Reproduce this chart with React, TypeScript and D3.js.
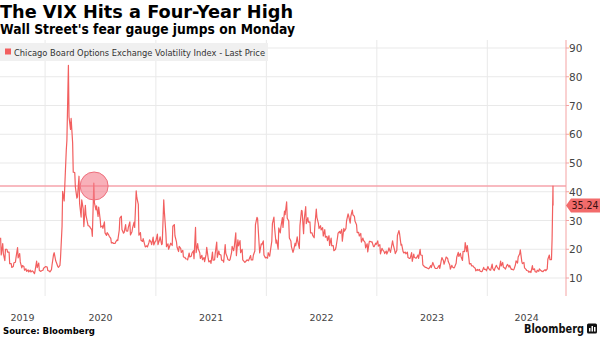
import React from 'react';
import * as d3 from 'd3';

const title = 'The VIX Hits a Four-Year High';
const subtitle = "Wall Street's fear gauge jumps on Monday";
const legendLabel = 'Chicago Board Options Exchange Volatility Index - Last Price';
const sourceText = 'Source: Bloomberg';
const brandText = 'Bloomberg';
const yTicks = [10, 20, 30, 40, 50, 60, 70, 80, 90];
const yearLabels = [2019, 2020, 2021, 2022, 2023, 2024];
const lastPrice = 35.24;
const highLevel = 42;
const highlightDate = '2020-06-11';

// two readings per week (mid-week, end of week), weeks starting on the given Monday
const vix2019 = [24, 18, 22, 18.5, 16, 20, 20, 19, 19, 15, 15, 13.7, 14, 15.3, 15.5, 17.2, 20.6, 17, 18.5, 15.6, 13.5, 14.3, 14, 12.7, 13.2, 12.3, 12.8, 12.1, 12.7, 12.1, 12.5, 12.3, 11.5, 12.6, 15.9, 13.6, 15.2, 12.6, 12.3, 12.5, 12.7, 13.4, 13.8, 14];
const vix2020 = [13.8, 12.6, 12.4, 12.1, 12.9, 14.6, 18.2, 18.8, 16, 15.5, 14, 13.7, 14.4, 17.1, 27.9, 40.1, 36.8, 41.9, 54.5, 57.8, 84, 66, 61.7, 65.5, 57, 46.8, 46.7, 41.7, 37.8, 38.2, 45.4, 35.9, 31.2, 37.2, 34, 27.9, 35.3, 31.9, 29.3, 28.2, 28, 27.5, 26.8, 24.5, 43, 36.1, 33.7, 35.1, 31.4, 34.7, 30.4, 27.7, 28.1, 27.3, 29.5, 25.7, 24.8, 25.8, 25, 24.5, 23.8, 22.2, 22.3, 22, 22, 22.5, 23.3, 23, 26.6, 30.8, 31.5, 26.9, 25.6, 25.8, 28.6, 26.4, 26.3, 27.6, 29.5, 25, 26.1, 27.4, 29.4, 27.6, 40.3, 38, 35.6, 24.9, 25.8, 23.1, 22.7, 23.7, 21.6, 20.8, 21.2, 20.8, 22.3, 23.3, 22.5, 21.6, 24.2, 21.5, 22.8, 22.8];
const vix2021 = [25.3, 21.6, 23.3, 24.3, 21.6, 21.9, 37.2, 33.1, 25.6, 20.9, 21.9, 20, 21.5, 22.1, 21.3, 28, 28.6, 24.7, 22.6, 20.7, 19.2, 21, 20.3, 18.9, 19.6, 17.3, 17.2, 16.7, 16.6, 16.3, 18.7, 17.3, 17.6, 18.6, 19.5, 16.7, 27.6, 18.8, 22, 20.2, 18.8, 16.8, 17.9, 16.4, 17.1, 15.7, 18.2, 20.7, 16.7, 15.6, 16, 15.1, 19, 16.2, 16.3, 18.5, 22.5, 17.2, 19.4, 18.2, 18, 16.2, 16.1, 15.5, 21.6, 18.6, 17.2, 16.4, 16.1, 16.4, 18.8, 21, 19.5, 20.8, 25.7, 17.8, 23.3, 21.2, 23, 18.8, 20, 16.3, 15.7, 15.4, 16, 16.3, 16, 16.5, 17.8, 16.3, 16.3, 17.9, 19.4, 28.6, 31.1, 30.7, 21.9, 18.7, 21.9, 21.6, 22.9, 18, 17, 17.2];
const vix2022 = [16.9, 18.8, 17.6, 19.2, 22.8, 28.9, 31.2, 27.7, 22.1, 23.2, 20, 27.4, 25.7, 27.8, 31, 27.6, 33.3, 32, 36.5, 30.8, 29.8, 23.9, 22.9, 20.8, 18.9, 19.6, 22.1, 21.2, 24.3, 22.7, 20.3, 28.2, 33.5, 33.4, 25.4, 30.2, 34.8, 28.9, 31, 29.4, 29.5, 25.7, 25.7, 24.8, 24, 27.8, 34, 31.1, 29, 27.2, 28.2, 26.7, 27.5, 24.6, 26.8, 24.2, 24.5, 23, 24.7, 21.3, 23.9, 21.2, 21.3, 19.5, 19.9, 20.6, 24, 25.6, 26.2, 25.5, 26.9, 22.8, 27.3, 26.3, 27.2, 29.9, 32.3, 31.6, 29.1, 31.4, 33.6, 32, 31.4, 29.7, 28.5, 25.8, 25.9, 24.6, 25.5, 22.5, 23.9, 23.1, 22.4, 20.5, 21.9, 19.1, 22.6, 22.8, 22.5, 22.6, 20.9, 20.9, 22.1, 21.7];
const vix2023 = [22.9, 21.1, 21.6, 18.4, 20.3, 19.9, 19.2, 18.5, 19.4, 18.3, 19.6, 20.5, 18.9, 20, 22.9, 21.7, 19.6, 18.5, 19.6, 24.8, 26.5, 25.5, 21.4, 21.7, 19.1, 18.7, 19, 18.4, 19, 17.1, 16.8, 16.8, 18.8, 15.8, 18.3, 17.2, 16.9, 17, 18, 16.8, 20, 18, 17.9, 14.6, 14, 13.8, 13.6, 13.5, 13.2, 13.4, 14.3, 13.6, 15.4, 14.8, 13.5, 13.3, 13.3, 13.6, 14.4, 13.3, 16.1, 17.1, 16, 14.8, 16.5, 17.3, 16.8, 15.7, 14.5, 13.1, 14.4, 13.8, 13.5, 13.8, 15.1, 17.2, 18.9, 17.5, 18.6, 17.5, 16.1, 19.3, 19.2, 22.3, 19.2, 21.3, 16.9, 14.9, 15, 14.2, 14.2, 13.8, 13.4, 12.5, 13, 12.6, 13, 12.4, 12.2, 12.3, 13.7, 13, 13, 12.5];
const vix2024 = [14, 13.4, 12.7, 12.7, 14.8, 13.3, 12.6, 13.3, 14.4, 13.9, 13.1, 12.9, 15.9, 14.2, 15.4, 13.8, 13.4, 13.1, 14.5, 14.7, 13.8, 14.4, 13, 13.1, 12.8, 13, 14.6, 16, 15.2, 17.3, 18.4, 19.8, 15.7, 15, 15.4, 13.5, 13, 12.6, 12.5, 12, 12.3, 11.9, 14.3, 12.9, 13.2, 12.2, 12, 12.7, 12.3, 13.2, 12.6, 12.4, 12.2, 12.5, 12.9, 12.5, 13.2, 16.5, 18, 16.4, 16.4, 23.4];
const finalDay = '2024-08-05';
const finalValues = [highLevel, lastPrice];

const segments = [
  { start: '2019-08-05', values: vix2019 },
  { start: '2020-01-06', values: vix2020 },
  { start: '2021-01-04', values: vix2021 },
  { start: '2022-01-03', values: vix2022 },
  { start: '2023-01-02', values: vix2023 },
  { start: '2024-01-01', values: vix2024 },
];

const DAY = 86400000;
const parse = (s: string) => new Date(s + 'T00:00:00Z');

type Pt = { date: Date; v: number };
const points: Pt[] = [];
segments.forEach((seg) => {
  const t0 = parse(seg.start).getTime();
  seg.values.forEach((v, i) => {
    const week = Math.floor(i / 2);
    const off = week * 7 + (i % 2 === 0 ? 2 : 4);
    points.push({ date: new Date(t0 + off * DAY), v });
  });
});
finalValues.forEach((v, i) => {
  points.push({ date: new Date(parse(finalDay).getTime() + i * 0.3 * DAY), v });
});

const W = 600;
const H = 337;
const AXIS_X = 566;
const RED = '#f25f5f';

export default function App() {
  const x = d3.scaleUtc().domain([parse('2019-08-05'), parse('2024-09-17')]).range([0, AXIS_X]);
  const y = d3.scaleLinear().domain([0, 90]).range([306.75, 48]);
  const line = d3
    .line<Pt>()
    .x((d) => x(d.date))
    .y((d) => y(d.v));

  const yearX = (yr: number) => x(parse(`${yr}-01-01`));
  const gridYears = yearLabels.filter((yr) => yearX(yr) > 0);

  const lpY = y(lastPrice);
  const font = "'DejaVu Sans', Verdana, sans-serif";

  return (
    <svg width={W} height={H} style={{ position: 'absolute', left: 0, top: 0, background: '#fff' }}>
      <rect x={0} y={0} width={W} height={H} fill="#fff" />
      <text x={0} y={18} fontFamily={font} fontWeight={700} fontSize={18} fill="#000" textLength={293} lengthAdjust="spacingAndGlyphs">
        {title}
      </text>
      <text x={0} y={34} fontFamily={font} fontWeight={700} fontSize={14} fill="#000" textLength={295} lengthAdjust="spacingAndGlyphs">
        {subtitle}
      </text>

      {/* grid */}
      {yTicks.map((t) => (
        <line key={'h' + t} x1={0} x2={AXIS_X} y1={y(t)} y2={y(t)} stroke="#e9e9e9" strokeWidth={1} />
      ))}
      {gridYears.map((yr) => (
        <line key={'v' + yr} x1={yearX(yr)} x2={yearX(yr)} y1={40} y2={296} stroke="#e9e9e9" strokeWidth={1} />
      ))}

      {/* legend */}
      <rect x={0} y={43} width={268} height={18} fill="#f0f0f0" />
      <rect x={5} y={48.5} width={6} height={6} fill={RED} />
      <text x={14} y={55.5} fontFamily={font} fontSize={9.5} fill="#333" textLength={251} lengthAdjust="spacingAndGlyphs">
        {legendLabel}
      </text>

      {/* annotation level */}
      <line x1={0} x2={AXIS_X} y1={y(highLevel)} y2={y(highLevel)} stroke="#f6a3ab" strokeWidth={1.5} />

      {/* series */}
      <path d={line(points) || ''} fill="none" stroke={RED} strokeWidth={1.2} strokeLinejoin="round" />

      {/* highlight circle */}
      <circle cx={x(parse(highlightDate))} cy={y(highLevel)} r={14} fill="#f47c8a" fillOpacity={0.6} stroke="#ee6f7c" strokeWidth={1} />

      {/* right axis */}
      <line x1={AXIS_X} x2={AXIS_X} y1={40} y2={296} stroke="#f4a3a3" strokeWidth={1} />
      {yTicks.map((t) => (
        <g key={'t' + t}>
          <line x1={AXIS_X} x2={AXIS_X + 3} y1={y(t)} y2={y(t)} stroke="#f4a3a3" strokeWidth={1} />
          <text x={AXIS_X + 3} y={y(t) + 4} fontFamily={font} fontSize={10.5} fill="#444">
            {t}
          </text>
        </g>
      ))}

      {/* last price tag */}
      <path
        d={`M${AXIS_X},${lpY} L${AXIS_X + 5},${lpY - 7} L${W},${lpY - 7} L${W},${lpY + 7} L${AXIS_X + 5},${lpY + 7} Z`}
        fill="#f26b6b"
      />
      <text x={AXIS_X + 5.5} y={lpY + 3.8} fontFamily={font} fontSize={10} fill="#3a1010" textLength={27} lengthAdjust="spacingAndGlyphs">
        {lastPrice.toFixed(2)}
      </text>

      {/* x labels */}
      {yearLabels.map((yr) => {
        const a = Math.max(yearX(yr), 0);
        const b = Math.min(yearX(yr + 1), AXIS_X);
        return (
          <text key={'y' + yr} x={(a + b) / 2} y={320.5} textAnchor="middle" fontFamily={font} fontSize={9.5} fill="#444">
            {yr}
          </text>
        );
      })}

      {/* footer */}
      <text x={3} y={334} fontFamily={font} fontWeight={700} fontSize={9.5} fill="#000" textLength={92} lengthAdjust="spacingAndGlyphs">
        {sourceText}
      </text>
      <text x={524} y={333} fontFamily={font} fontWeight={700} fontSize={12} fill="#111" textLength={60} lengthAdjust="spacingAndGlyphs">
        {brandText}
      </text>
      <rect x={587} y={323.5} width={10} height={10} rx={1.5} fill="#111" />
      <rect x={589} y={328} width={1.5} height={3.5} fill="#fff" />
      <rect x={591.5} y={326} width={1.5} height={5.5} fill="#fff" />
      <rect x={594} y={327} width={1.5} height={4.5} fill="#fff" />
    </svg>
  );
}
